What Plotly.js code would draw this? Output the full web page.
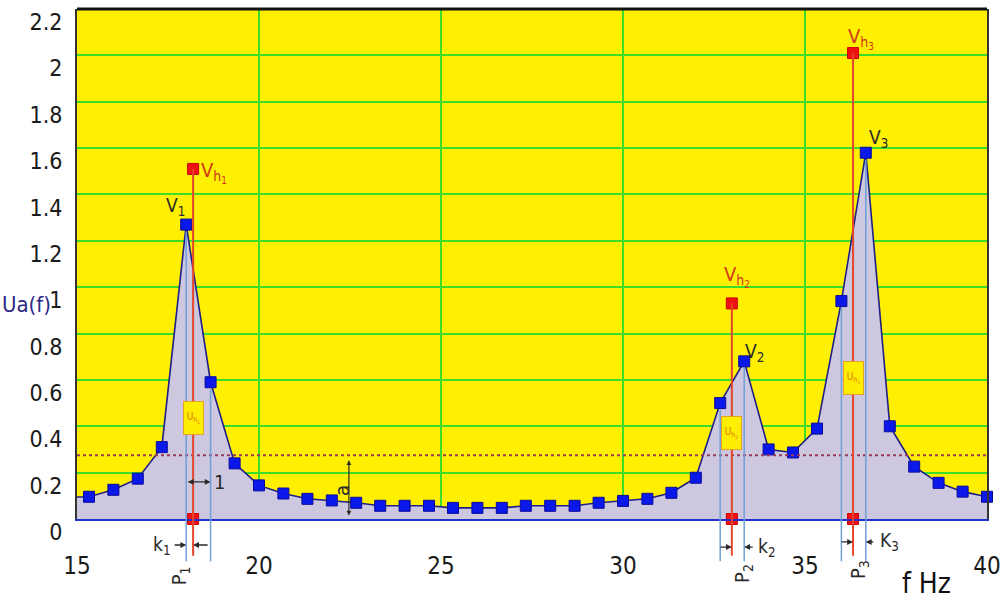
<!DOCTYPE html>
<html><head><meta charset="utf-8">
<script src="https://cdn.plot.ly/plotly-3.0.1.min.js"></script>
<style>html,body{margin:0;padding:0;background:#fff}#chart{width:1002px;height:600px}
.main-svg text{font-stretch:condensed}</style>
</head><body><div id="chart"></div>
<script>
// ---- data ----
const freq = [15, 15.33, 16, 16.67, 17.33, 18, 18.67, 19.33, 20, 20.67, 21.33, 22, 22.67, 23.33, 24, 24.67, 25.33, 26, 26.67, 27.33, 28, 28.67, 29.33, 30, 30.67, 31.33, 32, 32.67, 33.33, 34, 34.67, 35.33, 36, 36.67, 37.33, 38, 38.67, 39.33, 40];
const ua = [0.095, 0.096, 0.126, 0.174, 0.31, 1.27, 0.59, 0.24, 0.145, 0.11, 0.087, 0.08, 0.07, 0.057, 0.057, 0.057, 0.048, 0.048, 0.048, 0.057, 0.057, 0.057, 0.07, 0.078, 0.087, 0.113, 0.178, 0.50, 0.68, 0.30, 0.287, 0.39, 0.94, 1.58, 0.40, 0.226, 0.156, 0.118, 0.096];
const peakLabels = ['1', '2', '3'];
const peakV = [18, 33.33, 36.67];        // frequency of measured peaks V
const peakP = [18.19, 32.99, 36.32];     // frequency of true peaks P
const vh = [1.51, 0.93, 2.01];           // true peak heights Vh
const bandLo = [18, 32.67, 36];
const bandHi = [18.67, 33.33, 36.67];
const uhLevel = [0.435, 0.37, 0.61];
const threshold = 0.275;
const aFreq = 22.47;
const yTickVals = [0, 0.2, 0.4, 0.6, 0.8, 1, 1.2, 1.4, 1.6, 1.8, 2, 2.2];
const yTickText = ['0', '0.2', '0.4', '0.6', '0.8', '1', '1.2', '1.4', '1.6', '1.8', '2', '2.2'];
const xTickVals = [15, 20, 25, 30, 35, 40];
const xTickText = ['15', '20', '25', '30', '35', '40'];

// ---- helpers ----
const YMAX = 2.2;
const valAt = f => ua[freq.findIndex(v => Math.abs(v - f) < 0.01)];
const NARROW = '"Liberation Sans Narrow", "DejaVu Sans Condensed", "DejaVu Sans", sans-serif';
const RED = '#e5452a', LBLUE = '#6fa0d8', DARK = '#2a2a2a';

const markerSizes = freq.map((f, i) => (i === 0 ? 0 : 11));

const traces = [
  {
    x: freq, y: ua, type: 'scatter', mode: 'lines+markers',
    fill: 'tozeroy', fillcolor: '#cdc8df',
    line: {color: '#1e1e86', width: 1.6},
    marker: {symbol: 'square', size: markerSizes, color: '#0a18ea', opacity: 1, line: {color: '#0a0a9a', width: 1}},
    hoverinfo: 'skip', cliponaxis: false
  },
  {
    x: peakP.concat(peakP), y: vh.concat(peakP.map(() => 0)),
    type: 'scatter', mode: 'markers',
    marker: {symbol: 'square', size: 11, color: '#f01212', opacity: 1, line: {color: '#cc0000', width: 1}},
    hoverinfo: 'skip', cliponaxis: false
  }
];

const shapes = [];
shapes.push({type: 'line', xref: 'paper', x0: 0, x1: 1, yref: 'y', y0: threshold, y1: threshold,
  line: {color: '#9a3a5a', width: 2, dash: 'dot'}, layer: 'above'});
for (let i = 0; i < 3; i++) {
  [bandLo[i], bandHi[i]].forEach(f => {
    shapes.push({type: 'line', xref: 'x', x0: f, x1: f, yref: 'paper',
      y0: -0.083, y1: (valAt(f) - 0.03) / YMAX, line: {color: LBLUE, width: 1.5}, layer: 'above'});
  });
  shapes.push({type: 'line', xref: 'x', x0: peakP[i], x1: peakP[i], yref: 'paper',
    y0: -0.072, y1: vh[i] / YMAX, line: {color: RED, width: 2}, layer: 'above'});
}
shapes.push({type: 'line', xref: 'paper', yref: 'paper', x0: 0, x1: 1, y0: 1, y1: 1,
  line: {color: '#111', width: 3}, layer: 'above'});

const annotations = [];
const vShift = [[-11, 18], [10, 9], [13, 14]];
const vhShift = [[21, -3], [5, 27], [8, 15]];
const pShift = [-13, 11, 6];
const pY = [-0.112, -0.106, -0.1];
const kRight = [16, 10, 9];
const kText = ['k<sub>1</sub>', 'k<sub>2</sub>', 'K<sub>3</sub>'];
const kTextShift = [-24, 23, 24];
const kY = [-0.051, -0.055, -0.045];
const C = {xanchor: 'center', yanchor: 'middle'};
for (let i = 0; i < 3; i++) {
  const n = peakLabels[i];
  annotations.push({...C, x: peakV[i], y: valAt(peakV[i]), text: 'V<sub>' + n + '</sub>', showarrow: false,
    xshift: vShift[i][0], yshift: vShift[i][1], font: {family: NARROW, size: 19, color: DARK}});
  annotations.push({...C, x: peakP[i], y: vh[i], text: 'V<sub>h<sub>' + n + '</sub></sub>', showarrow: false,
    xshift: vhShift[i][0], yshift: vhShift[i][1], font: {family: NARROW, size: 20, color: '#d03a1a'}});
  annotations.push({...C, x: peakP[i], y: uhLevel[i], text: 'U<sub>h<sub>' + n + '</sub></sub>', showarrow: false,
    width: 15, height: 28, borderpad: 2, bgcolor: '#ffee00', bordercolor: '#e8a020', borderwidth: 1,
    font: {family: NARROW, size: 10, color: '#e07a10'}});
  annotations.push({...C, x: peakP[i], yref: 'paper', y: pY[i], text: 'P<sub>' + n + '</sub>', showarrow: false, textangle: -90,
    xshift: pShift[i], font: {family: NARROW, size: 20, color: DARK}});
  const lo = Math.min(peakV[i], peakP[i]), hi = Math.max(peakV[i], peakP[i]);
  annotations.push({x: lo, yref: 'paper', y: kY[i], text: '', showarrow: true, ax: -13, ay: 0,
    arrowhead: 2, arrowsize: 0.9, arrowwidth: 1.3, arrowcolor: DARK, standoff: 0});
  annotations.push({x: hi, yref: 'paper', y: kY[i], text: '', showarrow: true, ax: kRight[i], ay: 0,
    arrowhead: 2, arrowsize: 0.9, arrowwidth: 1.3, arrowcolor: DARK, standoff: 0});
  annotations.push({...C, x: peakV[i], yref: 'paper', y: kY[i], text: kText[i], showarrow: false, xshift: kTextShift[i],
    font: {family: NARROW, size: 19, color: DARK}});
}
annotations.push({x: bandHi[0], y: 0.16, axref: 'x', ayref: 'y', ax: bandLo[0], ay: 0.16, text: '',
  showarrow: true, arrowside: 'end+start', arrowhead: 2, arrowsize: 0.9, arrowwidth: 1.3, arrowcolor: DARK, standoff: 0});
annotations.push({...C, x: bandHi[0], y: 0.16, text: '1', showarrow: false, xshift: 9,
  font: {family: NARROW, size: 20, color: DARK}});
annotations.push({x: aFreq, y: 0.015, axref: 'x', ayref: 'y', ax: aFreq, ay: 0.26, text: '',
  showarrow: true, arrowside: 'end+start', arrowhead: 2, arrowsize: 0.8, arrowwidth: 1.2, arrowcolor: DARK, standoff: 0});
annotations.push({...C, x: aFreq, y: 0.125, text: 'a', showarrow: false, textangle: -90, xshift: -7,
  font: {family: NARROW, size: 20, color: DARK}});
annotations.push({...C, xref: 'paper', yref: 'paper', x: -0.055, y: 0.42, text: 'Ua(f)', showarrow: false,
  font: {family: NARROW, size: 22, color: '#2e2a85'}});
annotations.push({...C, xref: 'paper', yref: 'paper', x: 0.934, y: -0.127, text: 'f Hz', showarrow: false,
  font: {family: NARROW, size: 28, color: '#111'}});

const layout = {
  width: 1002, height: 600,
  margin: {l: 77, r: 15, t: 9, b: 81},
  paper_bgcolor: '#ffffff', plot_bgcolor: '#ffef00',
  showlegend: false,
  font: {family: NARROW, color: '#222'},
  xaxis: {
    range: [15, 40], tickvals: xTickVals, ticktext: xTickText, ticks: '',
    showgrid: true, gridcolor: '#3ddc2a', gridwidth: 1.5,
    showline: true, linecolor: '#2233cc', linewidth: 2,
    zeroline: false, ticklabelstandoff: 24,
    tickfont: {family: NARROW, size: 24, color: '#1a1a1a'}
  },
  yaxis: {
    range: [0, YMAX], tickvals: yTickVals, ticktext: yTickText, ticks: '',
    showgrid: true, gridcolor: '#3ddc2a', gridwidth: 2,
    showline: true, mirror: true, linecolor: '#333', linewidth: 2,
    zeroline: false, ticklabelstandoff: 8, ticklabelshift: 13,
    tickfont: {family: NARROW, size: 23, color: '#1a1a1a'}
  },
  shapes: shapes,
  annotations: annotations
};

Plotly.newPlot('chart', traces, layout, {displayModeBar: false, staticPlot: true});
</script>
</body></html>
